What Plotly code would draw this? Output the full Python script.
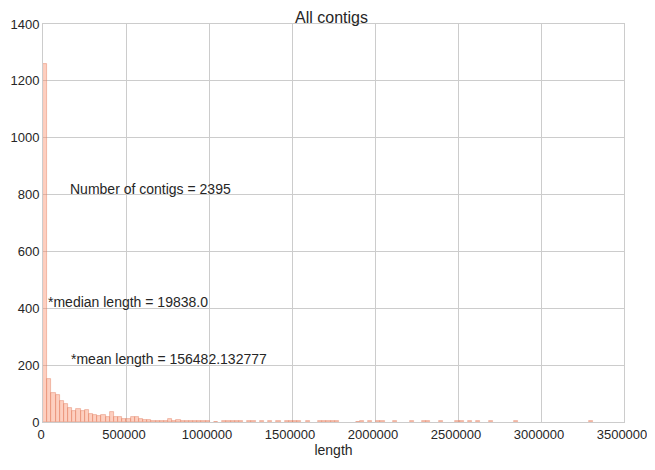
import plotly.graph_objects as go
import numpy as np

# histogram of contig lengths (counts per bin)
bin_width = 25100
counts = [1260, 150, 102, 96, 75, 63, 49, 38, 47, 38,
          42, 29, 23, 22, 23, 16, 36, 16, 16, 12,
          12, 16, 19, 9, 7, 7, 5, 5, 4, 5,
          9, 3, 6, 5, 5, 3, 2, 3, 2, 3,
          0, 1, 0, 4, 4, 3, 3, 2, 0, 2,
          2, 0, 2, 0, 2, 0, 2, 0, 5, 2,
          2, 2, 0, 2, 0, 0, 2, 2, 2, 2,
          2, 0, 0, 0, 0, 1, 2, 0, 2, 0,
          2, 2, 0, 0, 2, 0, 0, 0, 2, 0,
          0, 2, 2, 0, 0, 2, 0, 0, 0, 2,
          2, 0, 2, 0, 2, 0, 0, 2, 0, 0,
          0, 0, 0, 2, 0, 0, 0, 0, 0, 0,
          0, 0, 0, 0, 0, 0, 0, 0, 0, 0,
          0, 2, 0]

n_contigs = 2395
median_len = 19838.0
mean_len = 156482.132777

counts = np.array(counts)
lefts = np.arange(len(counts)) * bin_width
keep = counts > 0  # empty bins draw nothing

fig = go.Figure()
fig.add_trace(go.Bar(x=lefts[keep], y=counts[keep], width=bin_width, offset=0,
                     marker=dict(color='rgba(250,140,105,0.42)',
                                 line=dict(color='rgba(225,120,90,0.55)', width=0.8)),
                     showlegend=False))

notes = [(150000, 800, f'Number of contigs = {n_contigs}'),
         (median_len, 400, f'*median length = {median_len}'),
         (mean_len, 200, f'*mean length = {mean_len}')]
for x, y, t in notes:
    fig.add_annotation(x=x, y=y, text=t, showarrow=False, xanchor='left', yanchor='bottom',
                       yshift=-4, font=dict(size=14, color='#262626'))

# page body adds 8px round the figure, so keep it inside the window (no scrollbar)
fig.update_layout(width=647, height=450, plot_bgcolor='white', paper_bgcolor='white',
                  margin=dict(l=35, r=31, t=16, b=36),
                  font=dict(family='Liberation Sans, Arial, sans-serif', size=13, color='#262626'),
                  title=dict(text='All contigs', x=0.5, xanchor='center', y=0.98, yanchor='middle',
                             font=dict(size=16, color='#262626')),
                  bargap=0)
fig.update_xaxes(range=[0, 3500000], dtick=500000, tickformat='d', showgrid=True,
                 gridcolor='#cccccc', gridwidth=1, showline=True, linecolor='#cccccc',
                 mirror=True, zeroline=False, ticks='', automargin=False,
                 ticklabeloverflow='allow', ticklabelshift=-2,
                 title=dict(text='length', font=dict(size=14), standoff=11))
fig.update_yaxes(range=[0, 1400], dtick=200, showgrid=True, gridcolor='#cccccc', gridwidth=1,
                 showline=True, linecolor='#cccccc', mirror=True, zeroline=False, ticks='',
                 automargin=False)

fig.write_html("out.html")
